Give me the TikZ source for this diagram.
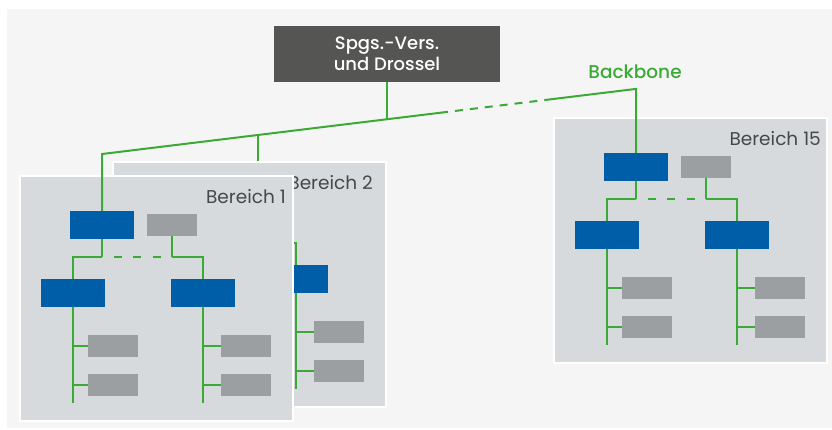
\documentclass[tikz,border=0pt]{standalone}
\usepackage{fontspec}
\setmainfont{Poppins}[BoldFont={Poppins Medium}]
\usetikzlibrary{calc}

\definecolor{pagebg}{HTML}{F5F5F5}
\definecolor{panelfill}{HTML}{D7DADD}
\definecolor{hubblue}{HTML}{005DA8}
\definecolor{unitgray}{HTML}{9C9FA2}
\definecolor{ctrlgray}{HTML}{555553}
\definecolor{netgreen}{HTML}{3AAA35}
\definecolor{labelgray}{HTML}{474747}

\tikzset{
  panel/.style={draw=white, line width=1.5pt, fill=panelfill, inner sep=0pt,
    minimum width=273pt, minimum height=245pt},
  hub/.style={fill=hubblue, inner sep=0pt, minimum width=64pt, minimum height=28pt},
  unit/.style={fill=unitgray, inner sep=0pt, minimum width=50pt, minimum height=22pt},
  arealabel/.style={text=labelgray, inner sep=0pt, font=\fontsize{18.5}{20}\selectfont},
  link/.style={draw=netgreen, line width=2pt},
  areadash/.style={dash pattern=on 8pt off 11.5pt, dash phase=8pt},
  backbonedash/.style={dash pattern=on 8pt off 7pt, dash phase=8pt},
}

% One area: panel, label (right edge at #5), two switch levels and the terminal units
\newcommand\areapanel[5]{%
  \begin{scope}[shift={(#2,#3)}]
    \node[panel] (#1-panel) at (136.5,122.5) {};
    \node[arealabel, anchor=east] (#1-label) at (#5,21) {#4};
    \node[hub]  (#1-top)   at (82,49) {};
    \node[unit] (#1-aux)   at (152,49) {};
    \node[hub]  (#1-left)  at (52.5,117) {};
    \node[hub]  (#1-right) at (183,117) {};
    \node[unit] (#1-l1) at (93,170) {};
    \node[unit] (#1-l2) at (93,208.5) {};
    \node[unit] (#1-r1) at (226,170) {};
    \node[unit] (#1-r2) at (226,208.5) {};
    \coordinate (#1-bl) at (52.5,81);
    \coordinate (#1-bt) at (82,81);
    \coordinate (#1-ba) at (152,81);
    \coordinate (#1-br) at (183,81);
    \coordinate (#1-lend) at (52.5,227);
    \coordinate (#1-rend) at (183,227);
    \draw[link] (#1-top.south) -- (#1-bt);
    \draw[link] (#1-aux.south) -- (#1-ba);
    \draw[link] (#1-left.north) -- (#1-bl) -- (#1-bt);
    \draw[link, areadash] (#1-bt) -- (#1-ba);
    \draw[link] (#1-ba) -- (#1-br) -- (#1-right.north);
    \draw[link] (#1-left.south) -- (#1-lend);
    \draw[link] (#1-right.south) -- (#1-rend);
    \draw[link] (#1-l1.west) -- (#1-l1.west -| #1-left);
    \draw[link] (#1-l2.west) -- (#1-l2.west -| #1-left);
    \draw[link] (#1-r1.west) -- (#1-r1.west -| #1-right);
    \draw[link] (#1-r2.west) -- (#1-r2.west -| #1-right);
  \end{scope}}

\begin{document}
\begin{tikzpicture}[x=1pt, y=-1pt]
  \useasboundingbox (0,0) rectangle (832,429);
  \fill[pagebg] (7,9) rectangle (832,428);

  % areas, back to front
  \areapanel{b2}{113}{162}{Bereich 2}{260}
  \areapanel{b1}{20}{176}{Bereich 1}{266}
  \areapanel{b15}{554}{118}{Bereich 15}{267}

  % supply and choke
  \node[fill=ctrlgray, text=white, inner sep=0pt, minimum width=226pt,
        minimum height=56pt, align=center,
        font=\bfseries\fontsize{18}{21}\selectfont] (ctrl) at (387,54)
        {Spgs.-Vers.\\und Drossel};

  \node[text=netgreen, inner sep=0pt, font=\bfseries\fontsize{18.5}{20}\selectfont]
        (bblabel) at (635,72) {Backbone};

  % backbone
  \coordinate (bbA) at (102,154);
  \coordinate (bbB) at (387,119.2);
  \coordinate (bbC) at (258,135.0);
  \coordinate (dashS) at (448,111.8);
  \coordinate (dashE) at (545,100.0);
  \coordinate (bbD) at (636,88.9);

  \draw[link] (b1-top.north) -- (bbA) -- (dashS);
  \draw[link, backbonedash] (dashS) -- (dashE);
  \draw[link] (dashE) -- (bbD) -- (b15-top.north);
  \draw[link] (ctrl.south) -- (bbB);
  \draw[link] (bbC) -- (bbC |- b2-panel.north);
\end{tikzpicture}
\end{document}
